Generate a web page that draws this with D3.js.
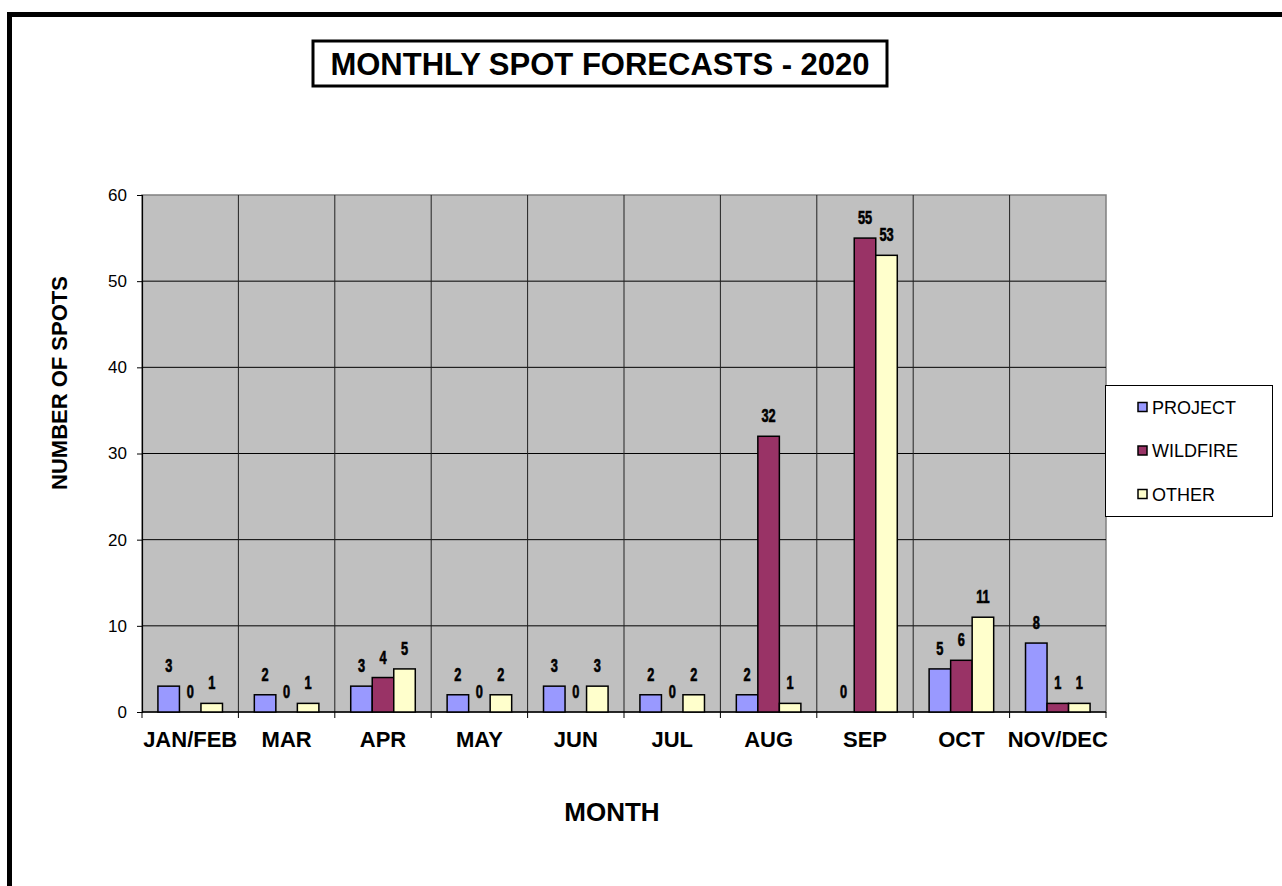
<!DOCTYPE html>
<html><head><meta charset="utf-8">
<script src="https://cdn.jsdelivr.net/npm/d3@7"></script>
<style>
html,body{margin:0;padding:0;background:#fff;}
svg{display:block;}
text{font-family:"Liberation Sans",Arial,sans-serif;}
</style></head>
<body>
<svg id="chart" width="1282" height="886"></svg>
<script>
const months = ["JAN/FEB","MAR","APR","MAY","JUN","JUL","AUG","SEP","OCT","NOV/DEC"];
const seriesNames = ["PROJECT","WILDFIRE","OTHER"];
const project  = [3,2,3,2,3,2,2,0,5,8];
const wildfire = [0,0,4,0,0,0,32,55,6,1];
const other    = [1,1,5,2,3,2,1,53,11,1];
const yTicks = [0,10,20,30,40,50,60];
const colors = ["#9999FF","#993366","#FFFFCC"];
const titleText = "MONTHLY SPOT FORECASTS - 2020";
const xTitle = "MONTH";
const yTitle = "NUMBER OF SPOTS";

const seriesValues = [project, wildfire, other];
const svg = d3.select("#chart");

// outer frame
svg.append("rect").attr("x",9.5).attr("y",14.5).attr("width",1400).attr("height",1000)
  .attr("fill","#fff").attr("stroke","#000").attr("stroke-width",5);

// title box
svg.append("rect").attr("x",313).attr("y",41).attr("width",574).attr("height",45)
  .attr("fill","#fff").attr("stroke","#000").attr("stroke-width",3);
svg.append("text").attr("x",600).attr("y",75).attr("text-anchor","middle")
  .attr("font-size",31).attr("font-weight","bold").text(titleText);

const L = 142, R = 1106, T = 195, B = 712;
const x0 = d3.scaleBand().domain(months).range([L,R]).paddingInner(0).paddingOuter(0);
const x1 = d3.scaleBand().domain(seriesNames).range([0,x0.bandwidth()]).paddingInner(0).paddingOuter(0.74);
const y = d3.scaleLinear().domain([0,60]).range([B,T]);

// plot bg
svg.append("rect").attr("x",L).attr("y",T).attr("width",R-L).attr("height",B-T)
  .attr("fill","#C0C0C0").attr("stroke","#808080").attr("stroke-width",1.5);

// horizontal gridlines
svg.append("g").selectAll("line").data(yTicks.filter(d=>d>0 && d<60)).join("line")
  .attr("x1",L).attr("x2",R).attr("y1",d=>y(d)).attr("y2",d=>y(d))
  .attr("stroke","#000").attr("stroke-width",1);
// vertical gridlines at category boundaries
svg.append("g").selectAll("line").data(months.slice(1)).join("line")
  .attr("x1",d=>x0(d)).attr("x2",d=>x0(d)).attr("y1",T).attr("y2",B)
  .attr("stroke","#222").attr("stroke-width",1);

// y axis
const yAxis = svg.append("g").attr("transform",`translate(${L},0)`)
  .call(d3.axisLeft(y).tickValues(yTicks).tickSize(5).tickPadding(10).tickFormat(d3.format("d")));
yAxis.select(".domain").attr("stroke","#000").attr("stroke-width",1.2);
yAxis.selectAll(".tick line").attr("stroke","#000");
yAxis.selectAll("text").attr("font-size",17).attr("font-family","Liberation Sans, Arial, sans-serif").attr("fill","#000");

// x axis with ticks at boundaries
const xAxis = svg.append("g").attr("transform",`translate(0,${B})`)
  .call(d3.axisBottom(x0).tickSize(0).tickPadding(20));
xAxis.select(".domain").remove();
xAxis.selectAll("text").attr("font-size",22).attr("font-weight","bold")
  .attr("font-family","Liberation Sans, Arial, sans-serif").attr("fill","#000")
  .attr("dy","0.35em").attr("y",27);
svg.append("line").attr("x1",L).attr("x2",R).attr("y1",B).attr("y2",B).attr("stroke","#000").attr("stroke-width",1.5);
const bounds = months.map(m=>x0(m)).concat([R]);
svg.append("g").selectAll("line").data(bounds).join("line")
  .attr("x1",d=>d).attr("x2",d=>d).attr("y1",B).attr("y2",B+6).attr("stroke","#000");

// bars
const data = months.map((m,i)=>({m, vals: seriesNames.map((s,j)=>({s, j, v: seriesValues[j][i]}))}));
const groups = svg.append("g").selectAll("g").data(data).join("g")
  .attr("transform",d=>`translate(${x0(d.m)},0)`);
groups.selectAll("rect").data(d=>d.vals.filter(v=>v.v>0)).join("rect")
  .attr("x",d=>x1(d.s)).attr("width",x1.bandwidth())
  .attr("y",d=>y(d.v)).attr("height",d=>B-y(d.v))
  .attr("fill",d=>colors[d.j]).attr("stroke","#000").attr("stroke-width",1.5);
groups.selectAll("text").data(d=>d.vals).join("text")
  .attr("transform",d=>`translate(${x1(d.s)+x1.bandwidth()/2},${y(d.v)-14}) scale(0.75,1.05)`)
  .attr("text-anchor","middle").attr("font-size",17).attr("font-weight","bold")
  .attr("stroke","#000").attr("stroke-width",0.6)
  .text(d=>d.v);

// axis titles
svg.append("text").attr("x",612).attr("y",821).attr("text-anchor","middle")
  .attr("font-size",26).attr("font-weight","bold").text(xTitle);
svg.append("text").attr("transform","translate(67,383) rotate(-90)").attr("text-anchor","middle")
  .attr("font-size",22).attr("font-weight","bold").text(yTitle);

// legend
svg.append("rect").attr("x",1105.5).attr("y",385.5).attr("width",167).attr("height",131)
  .attr("fill","#fff").attr("stroke","#000").attr("stroke-width",1);
const leg = svg.append("g").selectAll("g").data(seriesNames).join("g")
  .attr("transform",(d,i)=>`translate(1138,${407+i*43.5})`);
leg.append("rect").attr("x",0).attr("y",-4.5).attr("width",9).attr("height",9)
  .attr("fill",(d,i)=>colors[i]).attr("stroke","#000").attr("stroke-width",1.5);
leg.append("text").attr("x",14).attr("y",6.5).attr("font-size",18).text(d=>d);
</script>
</body></html>
